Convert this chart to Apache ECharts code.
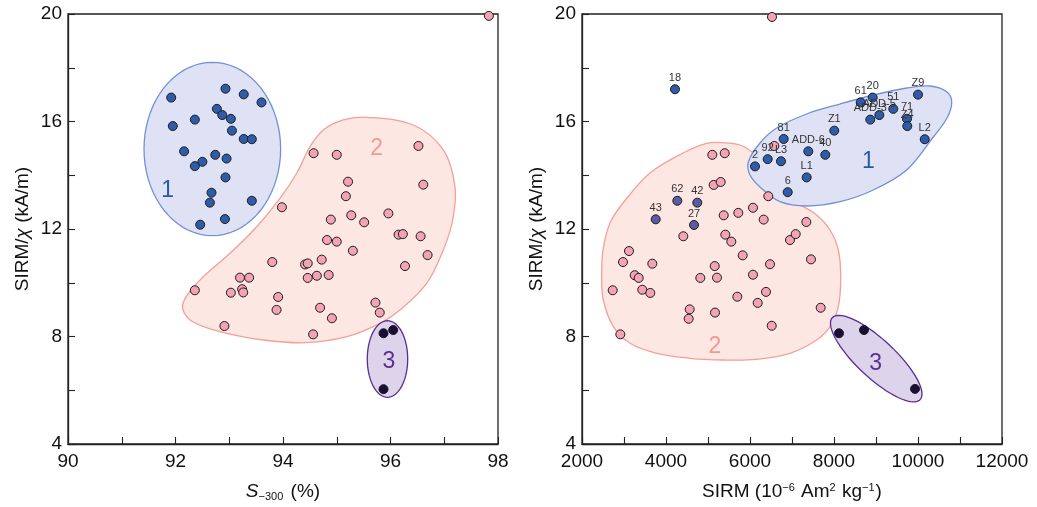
<!DOCTYPE html>
<html>
<head>
<meta charset="utf-8">
<script src="https://cdn.jsdelivr.net/npm/echarts@6/dist/echarts.min.js"></script>
<style>html,body{margin:0;padding:0;background:#fff;}#c{width:1037px;height:507px;}</style>
</head>
<body>
<div id="c"></div>
<script>
// ---------- DATA ----------
// Left panel: S-300 (%) vs SIRM/chi (kA/m)
var leftGroup1 = [[91.92,16.89],[92.93,17.22],[93.27,17.01],[93.60,16.71],[91.95,15.83],[92.36,16.07],[92.77,16.47],[92.87,16.24],[93.03,16.10],[93.05,15.66],[93.27,15.35],[93.42,15.34],[92.16,14.89],[92.36,14.34],[92.50,14.50],[92.74,14.76],[92.95,14.62],[92.93,13.92],[92.67,13.35],[92.64,12.98],[93.42,13.05],[92.46,12.16],[92.92,12.37]];
var leftGroup2 = [[94.57,14.82],[95.00,14.76],[96.52,15.09],[95.21,13.76],[96.61,13.65],[95.17,13.22],[93.98,12.81],[94.89,12.35],[95.27,12.51],[95.51,12.25],[95.96,12.58],[96.15,11.79],[96.23,11.81],[96.56,11.73],[94.82,11.59],[95.00,11.53],[95.30,11.19],[96.69,11.03],[93.80,10.77],[94.41,10.68],[94.46,10.72],[94.72,10.86],[96.27,10.62],[93.20,10.19],[93.37,10.19],[94.46,10.18],[94.63,10.26],[94.85,10.29],[92.36,9.72],[93.03,9.63],[93.24,9.76],[93.26,9.64],[93.91,9.47],[93.88,8.99],[94.69,9.07],[94.91,8.68],[95.72,9.26],[95.80,8.89],[92.91,8.39],[94.56,8.08],[97.83,19.93]];
var leftGroup3 = [[95.87,8.12],[96.05,8.24],[95.87,6.04]];

// Right panel: SIRM (1e-6 Am2/kg) vs SIRM/chi (kA/m)
var rightGroup1Names = ['18','61','20','Z9','51','ADD-5','ADD-3','71','Z4','Z1','L2','81','ADD-6','40','92','L3','2','L1','6'];
var rightGroup1 = [[4214,17.20],[8636,16.71],[8921,16.89],[10000,17.00],[9412,16.47],[9079,16.24],[8864,16.07],[9738,16.10],[9745,15.83],[8007,15.66],[10160,15.34],[6802,15.35],[7388,14.89],[7793,14.76],[6421,14.60],[6738,14.52],[6119,14.33],[7350,13.92],[6898,13.37]];
var rightMixedNames = ['62','42','43','27'];
var rightMixed = [[4269,13.05],[4745,12.98],[3755,12.36],[4667,12.15]];
var rightGroup2 = [[5102,14.76],[5398,14.82],[6579,15.09],[5136,13.64],[5302,13.75],[6436,13.22],[5374,12.51],[5721,12.60],[6071,12.79],[6326,12.35],[7341,12.26],[4412,11.73],[5412,11.79],[5555,11.53],[6952,11.59],[7088,11.81],[3119,11.18],[5826,11.02],[2976,10.77],[3674,10.71],[7452,10.87],[5160,10.62],[6476,10.69],[3255,10.28],[3350,10.18],[4817,10.18],[5214,10.19],[6071,10.30],[2731,9.72],[3436,9.74],[3626,9.62],[5698,9.48],[6381,9.66],[6183,9.25],[4564,9.01],[4540,8.66],[5167,8.89],[7683,9.07],[6517,8.40],[2912,8.08],[6524,19.89]];
var rightGroup3 = [[8119,8.12],[8714,8.24],[9929,6.05]];

// Axis ticks
var leftXTicks = [90,92,94,96,98];
var rightXTicks = [2000,4000,6000,8000,10000,12000];
var yTicks = [4,8,12,16,20];

// Cluster outlines (data coordinates)
var leftBlob2 = [[95.557,16.156],[96.424,15.870],[96.982,14.940],[97.200,13.574],[97.157,12.335],[96.982,11.219],[96.673,9.980],[96.177,8.986],[95.805,8.491],[95.185,7.993],[94.441,7.770],[93.633,7.870],[92.828,8.179],[92.270,8.614],[92.134,9.200],[92.456,10.102],[93.014,11.096],[93.511,12.086],[93.944,13.142],[94.255,14.073],[94.502,15.062],[94.750,15.684],[95.122,16.056]];
var rightBlob1 = [[5960,14.493],[6238,15.200],[6636,15.758],[7350,16.279],[8143,16.651],[8936,16.986],[9731,17.247],[10286,17.321],[10683,17.109],[10803,16.726],[10691,16.130],[10364,15.423],[9731,14.195],[8936,13.451],[8143,13.016],[7350,12.856],[6714,13.016],[6238,13.563],[6000,14.009]];
var rightBlob2 = [[5364,15.211],[5762,15.126],[6079,14.817],[6279,14.318],[6476,13.700],[6793,13.202],[7191,12.893],[7588,12.521],[7905,11.963],[8103,11.219],[8160,10.225],[8103,9.109],[7905,8.365],[7588,7.870],[6952,7.375],[6160,7.151],[5364,7.126],[4571,7.189],[3779,7.375],[3143,7.747],[2745,8.365],[2507,9.358],[2469,10.225],[2500,11.219],[2667,12.223],[2976,12.967],[3619,14.084],[4405,14.828],[4969,15.189]];
// Ellipses: center, semi-axes (data units)
var leftEllipse1 = {c:[92.685,14.977], r:[1.271,3.226]};
var leftEllipse3 = {c:[95.944,7.163], r:[0.376,1.425]};
// Rotated ellipse: major-axis end points + semi-minor (in y units)
var rightEllipse3 = {a:[7960,8.70], b:[10050,5.65], minor:0.707};
// Cluster numbers
var leftClusterLabels = [['1',91.855,13.414],['2',95.743,15.003],['3',95.972,7.063]];
var rightClusterLabels = [['1',8817,14.504],['2',5167,7.621],['3',8993,7.003]];

// ---------- STYLE ----------
var FONT = 'Liberation Sans, Arial, sans-serif';
var C1 = {fill:'#dfe2f4', stroke:'#7390d6', pt:'#2f5ca8', txt:'#2b58a6'};
var C2 = {fill:'#fde7e3', stroke:'#f3a097', pt:'#f3a3b3', txt:'#f29a92'};
var C3 = {fill:'#ddd3ea', stroke:'#5a2d90', pt:'#1a0d3a', txt:'#5c2d91'};
var CM = '#5b5ba3';

function ellipsePts(api, e){
  var c = api.coord(e.c), s = api.size(e.r), pts=[];
  for (var i=0;i<72;i++){var t=i/72*Math.PI*2; pts.push([c[0]+s[0]*Math.cos(t), c[1]+s[1]*Math.sin(t)]);}
  return pts;
}
function rotEllipsePts(api, e){
  var p1 = api.coord(e.a), p2 = api.coord(e.b);
  var cx=(p1[0]+p2[0])/2, cy=(p1[1]+p2[1])/2;
  var dx=p2[0]-p1[0], dy=p2[1]-p1[1], L=Math.sqrt(dx*dx+dy*dy);
  var ux=dx/L, uy=dy/L, a=L/2, b=api.size([0,e.minor])[1], pts=[];
  for (var i=0;i<72;i++){var t=i/72*Math.PI*2; var ca=a*Math.cos(t), sb=b*Math.sin(t);
    pts.push([cx+ca*ux - sb*uy, cy+ca*uy + sb*ux]);}
  return pts;
}
function blobPts(api, arr){ return arr.map(function(p){return api.coord(p);}); }

function regionSeries(idx, regions){
  return {
    type:'custom', xAxisIndex:idx, yAxisIndex:idx, clip:false, silent:true, z:1,
    data: regions.map(function(r,i){return [i];}),
    encode:{x:-1,y:-1},
    renderItem:function(params, api){
      var r = regions[params.dataIndex];
      var pts = r.kind==='ellipse' ? ellipsePts(api, r.e) : (r.kind==='rot' ? rotEllipsePts(api, r.e) : blobPts(api, r.pts));
      return {type:'polygon', shape:{points:pts, smooth: r.kind==='blob'?0.35:0},
        style:{fill:r.col.fill, stroke:r.col.stroke, lineWidth:1.3}};
    }
  };
}
function labelSeries(idx, labs, cols){
  return {
    type:'custom', xAxisIndex:idx, yAxisIndex:idx, clip:false, silent:true, z:3,
    data: labs.map(function(l){return [l[1], l[2]];}),
    renderItem:function(params, api){
      var l = labs[params.dataIndex], p = api.coord([l[1], l[2]]);
      return {type:'text', x:p[0], y:p[1], style:{text:l[0], fill:cols[params.dataIndex].txt, font:'23px '+FONT, align:'center', verticalAlign:'middle'}};
    }
  };
}
function scatter(idx, data, color, names){
  var s = {type:'scatter', xAxisIndex:idx, yAxisIndex:idx, z:5, symbolSize:9,
    data: data.map(function(d,i){return names?{name:names[i], value:d}:d;}),
    itemStyle:{color:color, borderColor:'#1c1c1c', borderWidth:1, opacity:1}};
  if (names){
    s.label = {show:true, position:'top', distance:1, formatter:'{b}', color:'#333', fontSize:11, fontFamily:FONT};
    s.labelLayout = {hideOverlap:false};
  }
  return s;
}

var axisCommon = {
  axisLine:{show:true, onZero:false, lineStyle:{color:'#222', width:1.3}},
  axisTick:{show:true, inside:true, length:7, lineStyle:{color:'#222', width:1.1}},
  splitLine:{show:false}
};
function xAxis(idx, min, max, interval, ticks, nameRich){
  return Object.assign({}, axisCommon, {
    gridIndex:idx, type:'value', min:min, max:max, interval:interval,
    axisLabel:{show:true, showMinLabel:true, showMaxLabel:true, margin:8, color:'#111', fontSize:19, fontFamily:FONT,
      formatter:function(v){return ticks.indexOf(v)>=0 ? String(v) : '';}},
    name:nameRich.text, nameLocation:'middle', nameGap:38,
    nameTextStyle:{color:'#111', fontSize:19, fontFamily:FONT, rich:nameRich.rich}
  });
}
function yAxis(idx){
  return Object.assign({}, axisCommon, {
    gridIndex:idx, type:'value', min:4, max:20, interval:2,
    axisLabel:{show:true, showMinLabel:true, showMaxLabel:true, margin:6, color:'#111', fontSize:19, fontFamily:FONT,
      formatter:function(v){return yTicks.indexOf(v)>=0 ? String(v) : '';}},
    name:'SIRM/{i|χ} (kA/m)', nameLocation:'middle', nameGap:36,
    nameTextStyle:{color:'#111', fontSize:19, fontFamily:FONT, rich:{i:{fontStyle:'italic', fontSize:19, fontFamily:FONT, color:'#111'}}}
  });
}

var leftName = {text:'{s|S}{sub|−300} (%)', rich:{
  s:{fontStyle:'italic', fontSize:19, fontFamily:FONT, color:'#111'},
  sub:{fontSize:11, fontFamily:FONT, color:'#111', verticalAlign:'bottom', padding:[9,2,0,0]}}};
var rightName = {text:'SIRM (10{sup|−6} Am{sup|2} kg{sup|−1})', rich:{
  sup:{fontSize:11, fontFamily:FONT, color:'#111', verticalAlign:'top', padding:[0,1,9,0]}}};

var gridStyle = {show:true, borderColor:'#222', borderWidth:1.3, backgroundColor:'transparent', containLabel:false};

var option = {
  backgroundColor:'#fff',
  animation:false,
  grid:[
    Object.assign({left:68, right:539, top:14, bottom:63}, gridStyle),
    Object.assign({left:582, right:35, top:14, bottom:63}, gridStyle)
  ],
  xAxis:[ xAxis(0, 90, 98, 1, leftXTicks, leftName), xAxis(1, 2000, 12000, 1000, rightXTicks, rightName) ],
  yAxis:[ yAxis(0), yAxis(1) ],
  series:[
    regionSeries(0, [
      {kind:'ellipse', e:leftEllipse1, col:C1},
      {kind:'blob', pts:leftBlob2, col:C2},
      {kind:'ellipse', e:leftEllipse3, col:C3}
    ]),
    regionSeries(1, [
      {kind:'blob', pts:rightBlob2, col:C2},
      {kind:'blob', pts:rightBlob1, col:C1},
      {kind:'rot', e:rightEllipse3, col:C3}
    ]),
    labelSeries(0, leftClusterLabels, [C1,C2,C3]),
    labelSeries(1, rightClusterLabels, [C1,C2,C3]),
    scatter(0, leftGroup2, C2.pt),
    scatter(0, leftGroup1, C1.pt),
    scatter(0, leftGroup3, C3.pt),
    scatter(1, rightGroup2, C2.pt),
    scatter(1, rightGroup1, C1.pt, rightGroup1Names),
    scatter(1, rightMixed, CM, rightMixedNames),
    scatter(1, rightGroup3, C3.pt)
  ]
};
var chart = echarts.init(document.getElementById('c'), null, {renderer:'canvas'});
chart.setOption(option);
</script>
</body>
</html>
